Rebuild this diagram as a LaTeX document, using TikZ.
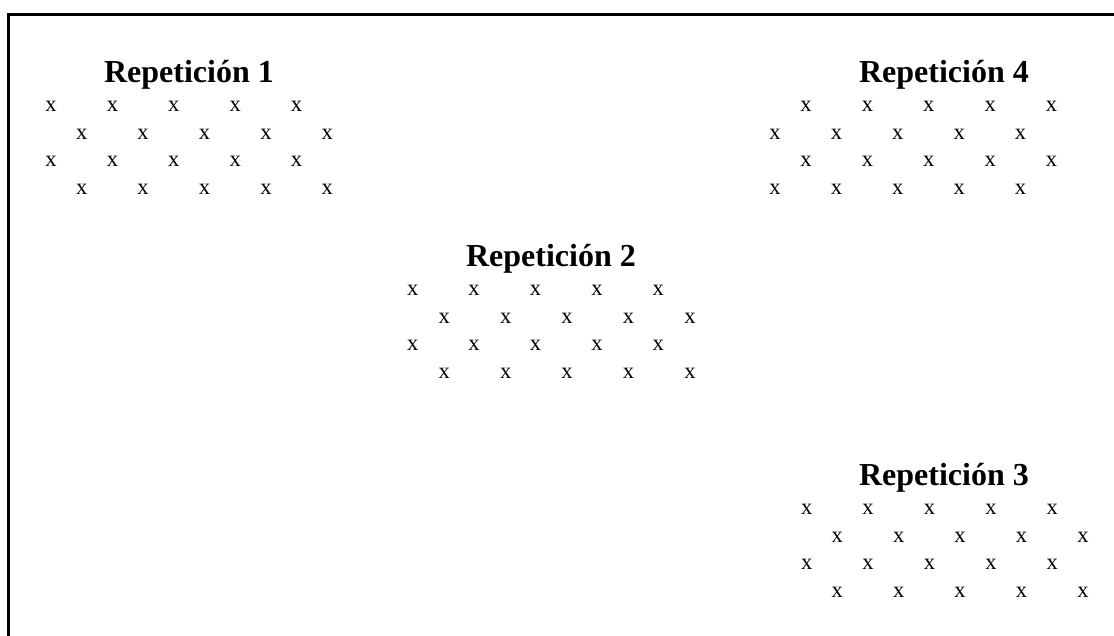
\documentclass[tikz,border=0pt]{standalone}
\usepackage{fontspec}
\setmainfont{Liberation Serif}
\begin{document}
\begin{tikzpicture}[x=1pt,y=-1pt,
  title/.style={anchor=base,inner sep=0pt,font=\fontsize{32}{38}\selectfont\bfseries},
  mark x/.style={anchor=base,inner sep=0pt,font=\fontsize{22.5}{27}\selectfont},
  frame/.style={line width=3pt,line cap=rect}]
\useasboundingbox (0,0) rectangle (1114,635);
\draw[frame] (1116,14.5) -- (8.5,14.5) -- (8.5,637);
% groups: id / title x / title baseline / odd-row start / even-row start
\foreach \g/\tx/\ty/\xa/\xb in {1/189/82/51/81.7, 2/551/266/412.7/444.3, 3/944/485/806.7/837.3, 4/944/82/806/775}{
  \node[title] (t\g) at (\tx,\ty) {Repetición \g};
  \foreach \r in {0,1,2,3}{
    \foreach \c in {0,...,4}{
      \pgfmathsetmacro{\xs}{mod(\r,2)==0 ? \xa : \xb}
      \node[mark x] (x\g-\r-\c) at ({\xs+61.4*\c},{\ty+29.5+27.5*\r}) {x};
    }
  }
}
\end{tikzpicture}
\end{document}
